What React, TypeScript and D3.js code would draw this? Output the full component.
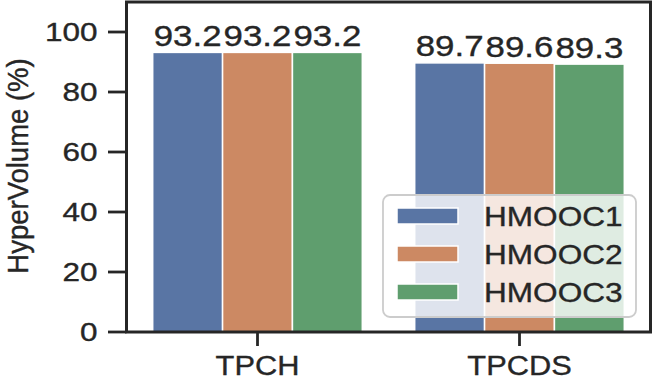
import React from "react";
import * as d3 from "d3";

const categories = ["TPCH", "TPCDS"];
const seriesNames = ["HMOOC1", "HMOOC2", "HMOOC3"];
const hmooc1 = [93.2, 89.7];
const hmooc2 = [93.2, 89.6];
const hmooc3 = [93.2, 89.3];
const yTicks = [0, 20, 40, 60, 80, 100];
const colors = ["#5975a4", "#cc8963", "#5f9e6e"];

const W = 653;
const H = 382;
const left = 126.5;
const right = 650.5;
const top = 2;
const bottom = 332;
const FONT = "'Liberation Sans', Arial, Helvetica, sans-serif";
const INK = "#262626";

function T({ x, y, size, anchor = "start", rotate = 0, sx = 1.12, sy = 1, children }: any) {
  const tr = rotate
    ? `translate(${x},${y}) rotate(${rotate}) scale(${sx},${sy})`
    : `translate(${x},${y}) scale(${sx},${sy})`;
  return (
    <text
      transform={tr}
      fontSize={size}
      fontFamily={FONT}
      fill={INK}
      stroke={INK}
      strokeWidth={0.35}
      textAnchor={anchor}
    >
      {children}
    </text>
  );
}

export default function App() {
  const series = [hmooc1, hmooc2, hmooc3];
  const x = d3
    .scaleBand<string>()
    .domain(categories)
    .range([left, right])
    .paddingInner(0.2)
    .paddingOuter(0.1);
  const xs = d3
    .scaleBand<string>()
    .domain(seriesNames)
    .range([0, x.bandwidth()])
    .padding(0);
  const y = d3.scaleLinear().domain([0, 110]).range([bottom, top]);

  const legendX = 383;
  const legendY = 195;
  const legendW = 253;
  const legendH = 122;

  return (
    <svg width={W} height={H} style={{ position: "absolute", left: 0, top: 0 }}>
      <rect x={0} y={0} width={W} height={H} fill="#fff" />
      {/* bars */}
      {categories.map((c, ci) =>
        seriesNames.map((s, si) => {
          const v = series[si][ci];
          const bx = (x(c) as number) + (xs(s) as number);
          return (
            <rect
              key={c + s}
              x={bx}
              y={y(v)}
              width={xs.bandwidth()}
              height={y(0) - y(v)}
              fill={colors[si]}
              stroke="#fff"
              strokeWidth={1.5}
            />
          );
        })
      )}
      {/* value labels */}
      {categories.map((c, ci) =>
        seriesNames.map((s, si) => {
          const v = series[si][ci];
          const cx = (x(c) as number) + (xs(s) as number) + xs.bandwidth() / 2;
          return (
            <T key={"l" + c + s} x={cx} y={y(v) - 6.5} size={29.3} sx={1.19} anchor="middle">
              {v.toFixed(1)}
            </T>
          );
        })
      )}
      {/* legend */}
      <rect
        x={legendX}
        y={legendY}
        width={legendW}
        height={legendH}
        rx={7}
        fill="#fff"
        fillOpacity={0.8}
        stroke="#cccccc"
        strokeWidth={1.8}
      />
      {seriesNames.map((s, i) => {
        const cy = 216 + i * 38;
        return (
          <g key={"lg" + s}>
            <rect
              x={397}
              y={cy - 8}
              width={61}
              height={16}
              fill={colors[i]}
              stroke="#fff"
              strokeWidth={1.5}
            />
            <T x={484} y={cy + 10} size={27} sx={1.17}>
              {s}
            </T>
          </g>
        );
      })}
      {/* spines */}
      <rect
        x={left}
        y={top}
        width={right - left}
        height={bottom - top}
        fill="none"
        stroke={INK}
        strokeWidth={3}
      />
      {/* y ticks */}
      {yTicks.map((t) => (
        <g key={"yt" + t}>
          <line x1={108} x2={left} y1={y(t)} y2={y(t)} stroke={INK} strokeWidth={2.8} />
          <T x={97.5} y={y(t) + 9.2} size={25.6} sx={1.23} anchor="end">
            {t}
          </T>
        </g>
      ))}
      {/* x ticks */}
      {categories.map((c) => {
        const cx = (x(c) as number) + x.bandwidth() / 2;
        return (
          <g key={"xt" + c}>
            <line x1={cx} x2={cx} y1={bottom} y2={346} stroke={INK} strokeWidth={2.8} />
            <T x={cx} y={375} size={28} sx={1.1} anchor="middle">
              {c}
            </T>
          </g>
        );
      })}
      {/* y label */}
      <T x={28} y={166} size={27.5} sx={1} sy={1.1} anchor="middle" rotate={-90}>
        HyperVolume (%)
      </T>
    </svg>
  );
}
